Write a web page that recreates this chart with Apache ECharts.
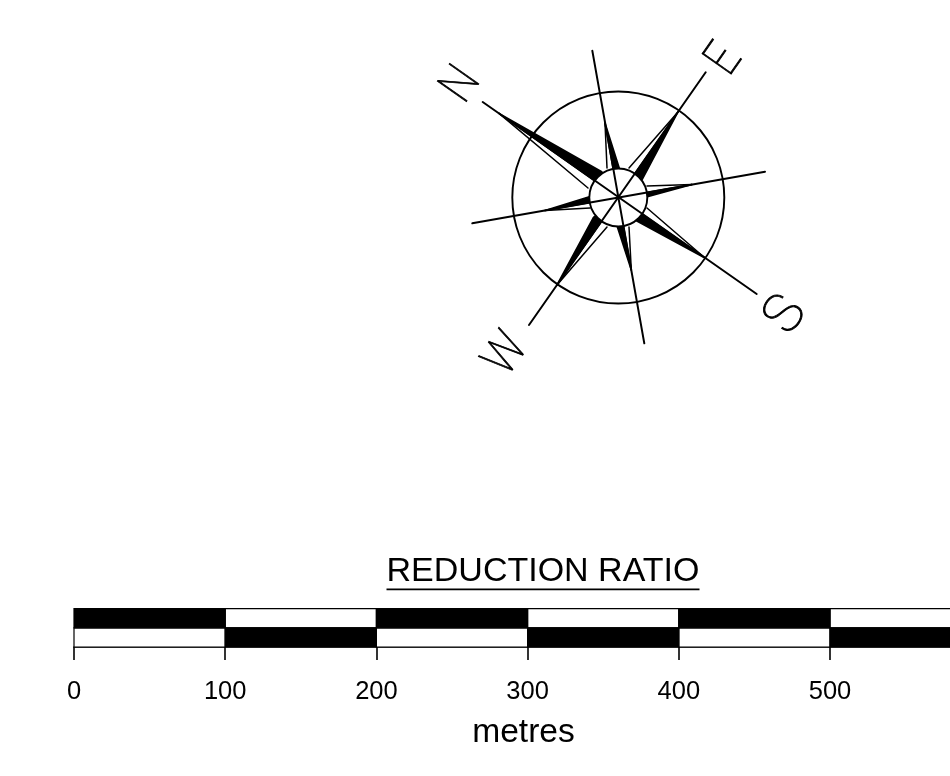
<!DOCTYPE html>
<html><head><meta charset="utf-8">
<style>html,body{margin:0;padding:0;background:#fff}#c{width:950px;height:776px}</style>
<script src="https://cdn.jsdelivr.net/npm/echarts@6/dist/echarts.min.js"></script>
</head><body><div id="c"></div>
<script>
// Scale bar (metres)
const scaleTicks = [0,100,200,300,400,500,600];
const topBlack = [[0,100],[200,300],[400,500]];
const topWhite = [[100,200],[300,400],[500,600]];
const bottomBlack = [[100,200],[300,400],[500,600]];
const bottomWhite = [[0,100],[200,300],[400,500]];
// Compass rose, in drawing units
const compassCentre = [618.3,197.5];
const outerRadius = 106;
const innerRadius = 29;
const rays = [
  [[482.7,102],[756.7,294]],
  [[705.7,72.3],[529,325]],
  [[592.3,50.7],[644.3,343.3]],
  [[765,171.7],[472.3,223.3]]
];
// each: tip, base of filled half, base of open half
const points = [
  [[499,113.4],[601.7,171.7],[588,188]],
  [[678,112],[642.5,179],[629,168]],
  [[705,258],[635,220],[647,208]],
  [[557,285],[593.5,217.3],[607,227]],
  [[605,123],[619.3,168.3],[607,168]],
  [[692,184.6],[647.3,196.7],[647,186]],
  [[631.3,270],[617.3,226.7],[629,227]],
  [[545,210.5],[589.3,196.7],[590,208]]
];
const letters = [
  ['N',462.5,85.5],
  ['E',725.5,60.5],
  ['S',787,316],
  ['W',507.5,355]
];
const titleText = 'REDUCTION RATIO';
const unitText = 'metres';

function rectSeries(data, fill){
  return {type:'custom',xAxisIndex:0,yAxisIndex:0,clip:false,silent:true,
    data:data.map(d=>({value:d})),
    renderItem(p,api){
      const a=api.coord([api.value(0),api.value(3)]), b=api.coord([api.value(1),api.value(2)]);
      return {type:'rect',shape:{x:a[0],y:a[1],width:b[0]-a[0],height:b[1]-a[1]},
        style:{fill:fill,stroke:'#000',lineWidth:1.2}};
    }};
}
const row=(arr,lo,hi)=>arr.map(d=>[d[0],d[1],lo,hi]);
function poly(data, z){
  return {type:'custom',xAxisIndex:1,yAxisIndex:1,silent:true,z:z,clip:false,
    data:data.map(d=>({value:d.flat()})),
    renderItem(p,api){
      const pts=[];
      for(let i=0;i<data[p.dataIndex].length;i++) pts.push(api.coord([api.value(2*i),api.value(2*i+1)]));
      return {type:'polygon',shape:{points:pts},style:{fill:'#000',stroke:'#000',lineWidth:1.6,lineJoin:'round'}};
    }};
}
function lines(data, z, w){
  return {type:'custom',xAxisIndex:1,yAxisIndex:1,silent:true,z:z,clip:false,
    data:data.map(d=>({value:d.flat()})),
    renderItem(p,api){
      const pts=[];
      for(let i=0;i<data[p.dataIndex].length;i++) pts.push(api.coord([api.value(2*i),api.value(2*i+1)]));
      return {type:'polyline',shape:{points:pts},style:{fill:null,stroke:'#000',lineWidth:w,lineCap:'round'}};
    }};
}
function circle(r, fill, z){
  return {type:'custom',xAxisIndex:1,yAxisIndex:1,silent:true,z:z,clip:false,
    data:[{value:[compassCentre[0],compassCentre[1],r]}],
    renderItem(p,api){
      const c=api.coord([api.value(0),api.value(1)]);
      const rr=api.size([api.value(2),0])[0];
      return {type:'circle',shape:{cx:c[0],cy:c[1],r:rr},style:{fill:fill,stroke:'#000',lineWidth:1.9}};
    }};
}
const option={
  animation:false,
  backgroundColor:'#fff',
  title:[
    {text:titleText,left:543,top:555,padding:0,textAlign:'center',textStyle:{fontFamily:'Liberation Sans',fontSize:34,fontWeight:'normal',color:'#000'}},
    {text:unitText,left:523.5,top:716,padding:0,textAlign:'center',textStyle:{fontFamily:'Liberation Sans',fontSize:33.6,fontWeight:'normal',color:'#000'}}
  ],
  graphic:[{type:'rect',shape:{x:386.5,y:588.5,width:313,height:1.8},style:{fill:'#000'}}],
  grid:[
    {left:74,top:608.7,width:907.2,height:38.3,outerBoundsMode:'none'},
    {left:0,top:0,width:950,height:776,outerBoundsMode:'none'}
  ],
  xAxis:[
    {type:'value',gridIndex:0,min:0,max:600,interval:100,
      splitLine:{show:false},
      axisLine:{show:true,onZero:false,lineStyle:{color:'#000',width:1.6}},
      axisLabel:{show:true,margin:32,color:'#000',fontFamily:'Liberation Sans',fontSize:25.5,showMaxLabel:true,hideOverlap:false,
        customValues:scaleTicks},
      axisTick:{show:true,length:13,customValues:scaleTicks,lineStyle:{color:'#000',width:1.6}}},
    {type:'value',gridIndex:1,min:0,max:950,show:false}
  ],
  yAxis:[
    {type:'value',gridIndex:0,min:0,max:2,show:false},
    {type:'value',gridIndex:1,min:0,max:776,inverse:true,show:false}
  ],
  series:[
    rectSeries(row(topWhite,1,2),'#fff'),
    rectSeries(row(bottomWhite,0,1),'#fff'),
    rectSeries(row(topBlack,1,2),'#000'),
    rectSeries(row(bottomBlack,0,1),'#000'),
    poly(points.map(p=>[p[0],p[1],compassCentre]),3),
    lines(points.map(p=>[p[0],p[2]]),4,1.5),
    circle(outerRadius,'transparent',5),
    circle(innerRadius,'#fff',6),
    lines(rays,7,2),
    {type:'custom',xAxisIndex:1,yAxisIndex:1,silent:true,z:8,clip:false,
      data:letters.map(l=>({value:[l[1],l[2]],name:l[0]})),
      renderItem(p,api){
        const c=api.coord([api.value(0),api.value(1)]);
        const ch=letters[p.dataIndex][0];
        return {type:'text',x:c[0],y:c[1],rotation:55*Math.PI/180,scaleX:ch==='S'?1:0.85,
          style:{text:ch,fontFamily:'Roboto',fontWeight:100,fontSize:ch==='S'?54:50,fill:'#000',stroke:'#000',lineWidth:0.9,align:'center',verticalAlign:'middle'}};
      }}
  ]
};
echarts.init(document.getElementById('c'),null,{renderer:'canvas'}).setOption(option);
</script></body></html>
